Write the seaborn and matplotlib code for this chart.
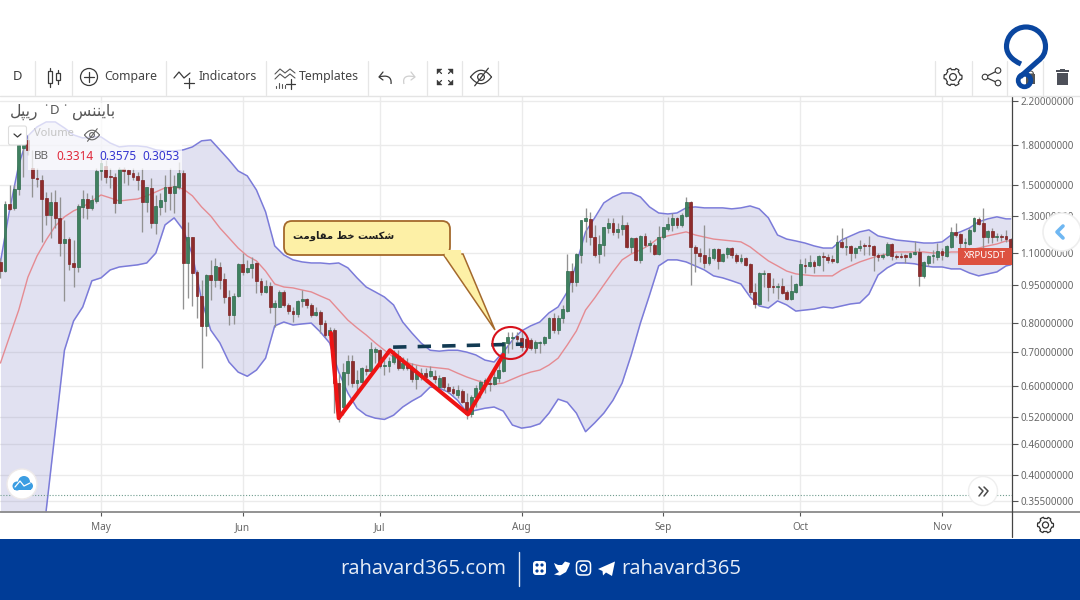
import numpy as np
import pandas as pd
import matplotlib
matplotlib.use("Agg")
import matplotlib.pyplot as plt
import seaborn as sns
from matplotlib.patches import Circle, Ellipse, FancyBboxPatch, Polygon, Rectangle, PathPatch, Wedge
from matplotlib.path import Path
from matplotlib.ticker import FixedLocator, NullLocator

sns.set_theme(style="white")
plt.rcParams['font.family'] = ['Noto Sans', 'DejaVu Sans']

# daily candles of the pair, first to last bar on the chart
opens = [1.056, 1.013, 1.375, 1.351, 1.473, 1.776, 1.842, 1.62, 1.549, 1.535,
         1.414, 1.308, 1.388, 1.291, 1.151, 1.172, 1.051, 1.032, 1.357, 1.407,
         1.351, 1.394, 1.599, 1.635, 1.563, 1.556, 1.382, 1.613, 1.606, 1.585,
         1.563, 1.535, 1.388, 1.48, 1.262, 1.357, 1.394, 1.486, 1.446, 1.486,
         1.585, 1.051, 1.183, 1.009, .904, .789, .995, .973, 1.032, .977,
         .90, .829, .904, 1.047, 1.009, 1.028, 1.051, .969, .921, .947,
         .86, .86, .921, .868, .844, .833, .884, .892, .868, .829,
         .841, .799, .757, .774, .608, .545, .636, .672, .608, .61,
         .648, .642, .70, .706, .657, .657, .669, .687, .651, .663,
         .651, .619, .625, .636, .627, .627, .597, .625, .597, .591,
         .575, .586, .557, .527, .57, .591, .608, .608, .605, .622,
         .642, .73, .746, .753, .746, .743, .739, .713, .73, .73,
         .746, .818, .774, .818, .844, 1.013, .964, 1.09, 1.273, 1.285,
         1.183, 1.095, 1.141, 1.233, 1.262, 1.211, 1.228, 1.25, 1.131, 1.178,
         1.066, 1.189, 1.141, 1.141, 1.095, 1.183, 1.228, 1.25, 1.291, 1.25,
         1.302, 1.388, 1.131, 1.10, 1.09, 1.051, 1.076, 1.12, 1.061, 1.095,
         1.125, 1.09, 1.061, 1.076, 1.047, .921, .872, 1.0, 1.004, .947,
         .942, .947, .921, .892, .921, .951, 1.042, 1.037, 1.056, 1.042,
         1.085, 1.08, 1.071, 1.056, 1.157, 1.131, 1.136, 1.10, 1.125, 1.141,
         1.141, 1.136, 1.09, 1.08, 1.09, 1.146, 1.085, 1.085, 1.09, 1.08,
         1.095, 1.105, .991, 1.051, 1.085, 1.08, 1.11, 1.085, 1.131, 1.211,
         1.20, 1.151, 1.146, 1.216, 1.285, 1.262, 1.183, 1.216, 1.183, 1.189, 1.189, 1.172]
closes = [1.013, 1.375, 1.345, 1.473, 1.80, 1.80, 1.76, 1.549, 1.542, 1.407,
          1.308, 1.388, 1.291, 1.151, 1.172, 1.047, 1.032, 1.363, 1.407, 1.351,
          1.401, 1.599, 1.658, 1.556, 1.556, 1.382, 1.613, 1.599, 1.578, 1.556,
          1.535, 1.388, 1.486, 1.262, 1.363, 1.401, 1.486, 1.446, 1.493, 1.585,
          1.051, 1.183, 1.004, .904, .789, .995, .973, 1.037, .973, .90,
          .829, .904, 1.047, 1.009, 1.028, 1.047, .969, .921, .947, .86,
          .876, .921, .868, .844, .833, .884, .892, .868, .829, .841,
          .796, .757, .774, .608, .518, .639, .672, .608, .616, .651,
          .642, .71, .71, .657, .66, .672, .691, .651, .666, .651,
          .619, .636, .636, .625, .642, .619, .622, .597, .586, .581,
          .589, .557, .527, .57, .594, .61, .616, .605, .625, .645,
          .733, .75, .75, .743, .716, .716, .713, .733, .733, .75,
          .818, .774, .818, .852, 1.013, .964, 1.095, 1.279, 1.291, 1.183,
          1.09, 1.146, 1.239, 1.262, 1.211, 1.228, 1.25, 1.131, 1.178, 1.066,
          1.189, 1.141, 1.151, 1.095, 1.183, 1.239, 1.256, 1.291, 1.25, 1.308,
          1.388, 1.131, 1.10, 1.085, 1.051, 1.08, 1.12, 1.061, 1.095, 1.125,
          1.09, 1.061, 1.076, 1.042, .921, .872, 1.004, 1.004, .942, .942,
          .947, .917, .892, .925, .955, 1.047, 1.037, 1.056, 1.037, 1.085,
          1.08, 1.066, 1.061, 1.157, 1.131, 1.136, 1.10, 1.125, 1.136, 1.136,
          1.136, 1.09, 1.08, 1.09, 1.146, 1.085, 1.08, 1.08, 1.08, 1.10,
          1.105, .991, 1.056, 1.085, 1.09, 1.11, 1.09, 1.136, 1.211, 1.194,
          1.151, 1.157, 1.222, 1.291, 1.256, 1.183, 1.216, 1.183, 1.189, 1.183, 1.172, 1.115]
highs = [1.076, 1.394, 1.50, 1.50, 1.884, 1.867, 1.884, 1.76, 1.62, 1.57,
         1.453, 1.453, 1.466, 1.42, 1.279, 1.183, 1.167, 1.375, 1.466, 1.446,
         1.433, 1.62, 1.712, 1.681, 1.62, 1.585, 1.628, 1.628, 1.613, 1.62,
         1.592, 1.62, 1.486, 1.549, 1.433, 1.446, 1.57, 1.62, 1.57, 1.666,
         1.606, 1.268, 1.183, 1.018, .973, 1.0, 1.066, 1.076, 1.056, 1.004,
         .929, .917, 1.051, 1.10, 1.066, 1.08, 1.056, .982, .973, .964,
         .888, .929, .929, .876, .86, .888, .929, .896, .876, .86,
         .848, .81, .785, .782, .633, .666, .691, .691, .645, .654,
         .66, .733, .716, .71, .675, .684, .706, .706, .684, .681,
         .666, .66, .651, .651, .657, .645, .63, .625, .608, .60,
         .602, .591, .581, .575, .602, .616, .622, .625, .654, .669,
         .733, .767, .767, .767, .774, .75, .746, .739, .736, .753,
         .821, .837, .829, .868, 1.095, 1.051, 1.10, 1.279, 1.351, 1.327,
         1.25, 1.194, 1.239, 1.291, 1.291, 1.262, 1.308, 1.268, 1.183, 1.183,
         1.194, 1.205, 1.167, 1.151, 1.244, 1.239, 1.297, 1.32, 1.297, 1.32,
         1.42, 1.394, 1.141, 1.125, 1.25, 1.125, 1.125, 1.125, 1.10, 1.131,
         1.131, 1.10, 1.095, 1.08, 1.051, .96, 1.009, 1.018, 1.004, .982,
         .96, .982, .929, .995, .96, 1.071, 1.076, 1.09, 1.066, 1.09,
         1.105, 1.095, 1.09, 1.194, 1.233, 1.183, 1.141, 1.131, 1.167, 1.151,
         1.189, 1.141, 1.10, 1.10, 1.157, 1.151, 1.095, 1.10, 1.095, 1.105,
         1.162, 1.125, 1.061, 1.09, 1.115, 1.151, 1.125, 1.141, 1.239, 1.262,
         1.205, 1.178, 1.233, 1.297, 1.297, 1.351, 1.222, 1.233, 1.205, 1.20, 1.222, 1.178]
lows = [.982, 1.009, 1.339, 1.339, 1.433, 1.556, 1.72, 1.42, 1.486, 1.157,
        1.25, 1.178, 1.233, 1.085, .884, 1.018, .942, 1.009, 1.291, 1.285,
        1.339, 1.382, 1.535, 1.514, 1.48, 1.32, 1.382, 1.514, 1.50, 1.535,
        1.466, 1.211, 1.327, 1.233, 1.20, 1.308, 1.327, 1.339, 1.32, 1.473,
        .852, .896, .864, .818, .651, .753, .888, .942, .934, .876,
        .792, .796, .90, .995, 1.004, .982, .917, .908, .917, .837,
        .785, .86, .86, .833, .803, .821, .86, .856, .821, .825,
        .764, .75, .73, .53, .508, .525, .602, .597, .581, .608,
        .63, .639, .666, .651, .63, .639, .663, .645, .645, .645,
        .61, .591, .616, .61, .625, .608, .589, .589, .581, .575,
        .568, .555, .515, .52, .545, .568, .581, .586, .602, .61,
        .639, .697, .71, .733, .703, .71, .706, .697, .697, .723,
        .746, .764, .76, .799, .841, .921, .947, 1.051, 1.157, 1.141,
        1.08, 1.051, 1.085, 1.205, 1.194, 1.178, 1.194, 1.125, 1.10, 1.061,
        1.051, 1.131, 1.105, 1.09, 1.09, 1.172, 1.216, 1.216, 1.233, 1.239,
        1.297, .951, 1.009, 1.056, 1.028, 1.042, 1.066, 1.023, 1.056, 1.076,
        1.076, 1.051, 1.051, 1.037, .908, .856, .868, .942, .884, .917,
        .892, .912, .888, .888, .917, .947, 1.004, 1.032, 1.004, 1.037,
        1.013, 1.051, 1.051, 1.051, 1.125, 1.09, 1.061, 1.076, 1.11, 1.09,
        1.09, 1.013, 1.061, 1.071, 1.085, 1.066, 1.071, 1.076, 1.051, 1.076,
        1.09, .947, .982, 1.037, 1.051, 1.066, 1.066, 1.08, 1.125, 1.183,
        1.125, 1.125, 1.141, 1.211, 1.25, 1.125, 1.151, 1.151, 1.162, 1.162, 1.157, 1.051]

# bollinger bands read at every second bar
band_days = list(range(0, 221, 2)) + [221]
band_upper = [1.056, 1.339, 1.643, 1.875, 1.954, 1.999, 1.999, 1.945, 1.884, 1.858,
              1.867, 1.867, 1.816, 1.784, 1.792, 1.792, 1.784, 1.76, 1.752, 1.752,
              1.76, 1.784, 1.834, 1.842, 1.76, 1.681, 1.599, 1.563, 1.466, 1.327,
              1.136, 1.09, 1.066, 1.056, 1.051, 1.051, 1.047, 1.051, 1.028, .982,
              .942, .921, .90, .868, .803, .764, .73, .706, .703, .706,
              .706, .70, .691, .675, .669, .70, .739, .771, .789, .803,
              .837, .86, .921, 1.047, 1.211, 1.291, 1.382, 1.42, 1.446, 1.446,
              1.42, 1.357, 1.32, 1.314, 1.32, 1.351, 1.357, 1.351, 1.351, 1.351,
              1.345, 1.351, 1.363, 1.345, 1.291, 1.194, 1.172, 1.162, 1.151, 1.136,
              1.125, 1.125, 1.167, 1.189, 1.211, 1.222, 1.189, 1.178, 1.167, 1.162,
              1.157, 1.151, 1.151, 1.157, 1.194, 1.211, 1.233, 1.268, 1.285, 1.297,
              1.285, 1.285]
band_mid = [.666, .752, .848, .985, 1.085, 1.167, 1.244, 1.297, 1.333, 1.357,
            1.394, 1.433, 1.414, 1.394, 1.401, 1.407, 1.427, 1.453, 1.48, 1.486,
            1.473, 1.427, 1.357, 1.302, 1.233, 1.178, 1.125, 1.085, 1.061, 1.013,
            .955, .942, .938, .929, .921, .904, .888, .848, .81, .782,
            .757, .73, .706, .684, .672, .663, .657, .654, .651, .648,
            .636, .625, .616, .608, .605, .608, .619, .63, .639, .645,
            .66, .681, .723, .771, .848, .896, .951, 1.009, 1.066, 1.095,
            1.115, 1.141, 1.178, 1.189, 1.20, 1.211, 1.194, 1.183, 1.172, 1.167,
            1.162, 1.157, 1.131, 1.095, 1.061, 1.037, 1.013, 1.0, .995, .991,
            .991, .991, 1.018, 1.037, 1.056, 1.071, 1.085, 1.095, 1.105, 1.105,
            1.105, 1.105, 1.10, 1.10, 1.105, 1.105, 1.115, 1.125, 1.136, 1.146,
            1.162, 1.162]
band_lower = [.15, .165, .18, .20, .23, .34, .49, .706, .807, .86,
              .969, .982, 1.018, 1.032, 1.037, 1.042, 1.051, 1.10, 1.25, 1.291,
              1.222, 1.09, .888, .774, .73, .669, .639, .627, .645, .681,
              .789, .803, .792, .796, .799, .767, .73, .639, .581, .542,
              .525, .518, .515, .525, .545, .56, .573, .597, .594, .583,
              .562, .532, .537, .542, .545, .535, .502, .495, .498, .505,
              .53, .565, .557, .53, .487, .507, .53, .562, .608, .691,
              .799, .908, 1.037, 1.066, 1.066, 1.056, 1.037, 1.018, .991, .982,
              .969, .955, .90, .864, .856, .884, .868, .844, .848, .852,
              .86, .856, .864, .872, .876, .912, .995, 1.028, 1.051, 1.051,
              1.047, 1.037, 1.032, 1.032, 1.023, 1.023, 1.004, .991, 1.0, 1.009,
              1.037, 1.042]

# hand drawn pattern and resistance line on the chart
pattern_days = [72.3, 74, 85.2, 102.3, 110]
pattern_prices = [.764, .518, .706, .527, .691]
resist_days = [85.9, 114.3]
resist_prices = [.716, .726]
last_line_price = .365

price_ticks = [2.2, 1.8, 1.5, 1.3, 1.1, .95, .8, .7, .6, .52, .46, .4, .355]
month_days = [22, 53, 83, 114, 145, 175, 206]
month_labels = ['May', 'Jun', 'Jul', 'Aug', 'Sep', 'Oct', 'Nov']
bb_values = ['0.3314', '0.3575', '0.3053']

# persian strings in visual order with presentation forms, matplotlib does no shaping
callout_text = '\uFE96\uFEE3\uFEED\uFE8E\uFED8\uFEE3 \uFEC2\uFEA7 \uFE96\uFEB4\uFB91\uFEB7'
title_left = '\uFEDE\uFB59\uFBFE\uFEAD'
title_right = '\uFEB2\uFEE8\uFEE8\uFBFE\uFE8E\uFE91'

df = pd.DataFrame({'open': opens, 'high': highs, 'low': lows, 'close': closes})
df['day'] = df.index
df['up'] = df['close'] >= df['open']

fig = plt.figure(figsize=(10.8, 6), dpi=100, facecolor='white')
ax = fig.add_axes([0, 88 / 600, 1012 / 1080, 416 / 600])
ax.set_yscale('log')

ax.fill_between(band_days, band_lower, band_upper, color='#7f7fc4', alpha=0.23, lw=0, zorder=1.5)
sns.lineplot(x=band_days, y=band_upper, ax=ax, color='#7b7bd9', lw=1.1, estimator=None, zorder=2)
sns.lineplot(x=band_days, y=band_lower, ax=ax, color='#7b7bd9', lw=1.1, estimator=None, zorder=2)
sns.lineplot(x=band_days, y=band_mid, ax=ax, color='#e58b92', lw=1.0, estimator=None, zorder=2)

ax.vlines(df['day'], df['low'], df['high'], color='#929292', lw=0.95, zorder=3)
body_low = df[['open', 'close']].min(axis=1)
body_high = df[['open', 'close']].max(axis=1)
body_col = np.where(df['up'], '#3f8060', '#8e2c2c')
body_edge = np.where(df['up'], '#2f6a4c', '#7d2323')
ax.bar(df['day'], body_high - body_low, bottom=body_low, width=0.62, color=body_col,
       edgecolor=body_edge, lw=0.5, zorder=4)

ax.axhline(last_line_price, color='#6f9c8e', lw=0.8, ls=(0, (1, 1.6)), zorder=2)
sns.lineplot(x=pattern_days, y=pattern_prices, ax=ax, color='#ee1414', lw=2.9, estimator=None,
             sort=False, zorder=6)
ax.plot(resist_days, resist_prices, color='#123a52', lw=2.6, dashes=(3.7, 3.1), zorder=6)

ax.set_xlim(-0.1, 221.3)
ax.set_ylim(.3377, 2.25)
ax.yaxis.set_major_locator(FixedLocator(price_ticks))
ax.yaxis.set_minor_locator(NullLocator())
ax.set_yticklabels(['%.8f' % p for p in price_ticks])
ax.yaxis.tick_right()
ax.set_xticks(month_days)
ax.set_xticklabels(month_labels)
ax.tick_params(axis='y', length=4.5, width=0.8, color='#555555', labelsize=7.1, labelcolor='#666666', pad=1.5, right=True)
ax.tick_params(axis='x', length=3, width=0.8, color='#555555', labelsize=7.2, labelcolor='#666666', pad=4.2, bottom=True)
ax.grid(True, color='#ebebeb', lw=1.0, zorder=0)
ax.set_axisbelow(True)
for s in ['top', 'left', 'right', 'bottom']:
    ax.spines[s].set_visible(False)
ax.set_xlabel('')
ax.set_ylabel('')

# overlay in picture pixels for the terminal chrome
ui = fig.add_axes([0, 0, 1, 1], zorder=5)
ui.set_xlim(0, 1080)
ui.set_ylim(600, 0)
ui.axis('off')
ui.patch.set_alpha(0)

INK = '#3a3a3a'

def seg(xs, ys, color=INK, lw=0.9, **kw):
    ui.plot(xs, ys, color=color, lw=lw, solid_capstyle='round', **kw)

def eye_slash(cx, cy, w, color=INK, lw=0.9):
    t = np.linspace(-1, 1, 30)
    seg(cx + t * w / 2, cy - (1 - t ** 2) * w * 0.32, color, lw)
    seg(cx + t * w / 2, cy + (1 - t ** 2) * w * 0.32, color, lw)
    ui.add_patch(Circle((cx, cy), w * 0.16, fill=False, ec=color, lw=lw))
    seg([cx - w * 0.3, cx + w * 0.35], [cy + w * 0.42, cy - w * 0.42], color, lw)

def gear(cx, cy, r, color=INK, lw=0.9):
    ang = np.linspace(0, 2 * np.pi, 97)[:-1]
    rad = r * (0.82 + 0.18 * (np.cos(ang * 6) > 0.0))
    ui.add_patch(Polygon(np.c_[cx + rad * np.cos(ang), cy + rad * np.sin(ang)], fc='white', ec=color, lw=lw, joinstyle='round'))
    ui.add_patch(Circle((cx, cy), r * 0.38, fill=False, ec=color, lw=lw))

# axis frame
seg([0, 1080], [512, 512], '#8a8a8a', 1.3)
seg([1012, 1012], [96, 537], '#444444', 0.9)
seg([0, 1080], [95.5, 95.5], '#e4e4e4', 1.0)
for sx in [35, 72, 166, 266, 368, 427, 462, 498, 935, 972, 1007, 1043]:
    seg([sx, sx], [61, 95], '#e6e6e6', 0.9)

# toolbar
ui.text(17, 77, 'D', fontsize=9.3, color=INK, ha='center', va='center')
for cx, ty, by, t2, b2 in [(49.5, 71, 83, 68, 87), (57.5, 73, 80, 70, 84)]:
    seg([cx, cx], [t2, b2], INK, 0.9)
    ui.add_patch(Rectangle((cx - 2, ty), 4, by - ty, fc='white', ec=INK, lw=0.9, zorder=3))
ui.add_patch(Circle((89, 77), 8.5, fill=False, ec=INK, lw=0.9))
seg([84, 94], [77, 77]); seg([89, 89], [72, 82])
ui.text(104, 76.5, 'Compare', fontsize=8.9, color='#444444', va='center')
seg([174, 179, 184, 190], [78, 72, 78, 73])
seg([184, 194], [83, 83]); seg([189, 189], [78, 88])
ui.text(199, 76.5, 'Indicators', fontsize=8.9, color='#444444', va='center')
seg([275, 280, 285, 290, 295], [74, 69, 73, 69, 73], '#555555', 0.8)
seg([275, 280, 285, 290, 295], [79, 74, 78, 74, 78], '#555555', 0.8)
for bx, bt in zip([276, 279, 282, 285], [86, 83, 84, 85]):
    seg([bx, bx], [bt, 88], '#555555', 0.8)
seg([286, 295], [84, 84]); seg([290.5, 290.5], [79, 89])
ui.text(299, 76.5, 'Templates', fontsize=8.9, color='#444444', va='center')
undo = PathPatch(Path([(379, 77), (386, 75), (392, 76), (391, 84)], [1, 4, 4, 4]), fill=False, ec=INK, lw=0.9)
ui.add_patch(undo)
seg([383, 379, 383], [72, 77, 80])
redo = PathPatch(Path([(415, 77), (408, 75), (402, 76), (404, 84)], [1, 4, 4, 4]), fill=False, ec='#cfcfcf', lw=0.9)
ui.add_patch(redo)
seg([411, 415, 411], [72, 77, 80], '#cfcfcf')
for dx, dy in [(-1, -1), (1, -1), (-1, 1), (1, 1)]:
    ui.add_patch(Polygon([(445 + dx * 8, 77 + dy * 8), (445 + dx * 3, 77 + dy * 8), (445 + dx * 8, 77 + dy * 3)],
                         fc=INK, ec=INK, lw=0.3))
    seg([445 + dx * 7, 445 + dx * 3.5], [77 + dy * 7, 77 + dy * 3.5], INK, 0.9)
eye_slash(481, 77, 21)
gear(953, 77, 9)
for px, py in [(998, 70.5), (998, 83), (985, 77)]:
    ui.add_patch(Circle((px, py), 2.8, fc='white', ec=INK, lw=0.8, zorder=4))
seg([985, 998], [77, 70.5]); seg([985, 998], [77, 83])
ui.add_patch(Rectangle((1026, 74), 9, 10, fc='#555555', ec='none'))
ui.add_patch(Wedge((1030.5, 74), 3, 180, 360, fc='none', ec='#555555', lw=0.8))
ui.add_patch(Rectangle((1057, 73), 11, 12, fc='#4d5059', ec='none'))
ui.add_patch(Rectangle((1056, 70), 13, 1.8, fc='#4d5059', ec='none'))
ui.add_patch(Rectangle((1060, 68.5), 5, 1.8, fc='#4d5059', ec='none'))

# logo above the toolbar
knot = Path([(1021, 64), (1012, 60), (1006.5, 54), (1006.5, 46.5), (1006.5, 36), (1015, 27), (1026, 27),
             (1037, 27), (1045.5, 36), (1045.5, 46.5), (1045.5, 53), (1043, 57), (1038, 61), (1020, 77)],
            [1, 4, 4, 4, 4, 4, 4, 4, 4, 4, 4, 4, 4, 2])
ui.add_patch(PathPatch(knot, fill=False, ec='#0a469f', lw=3.7, capstyle='butt', zorder=6))
ui.add_patch(Circle((1024.5, 80.5), 6.3, fill=False, ec='#0a469f', lw=3.4, zorder=6))

# top left legend
ui.add_patch(Rectangle((28, 121), 154, 49, fc='white', alpha=0.72, ec='none', zorder=1))
ui.add_patch(Rectangle((5, 103), 132, 18, fc='white', alpha=0.75, ec='none', zorder=1))
ui.text(10, 112, title_left, fontsize=11.3, color='#555555', va='center', family=['DejaVu Sans'])
ui.text(50, 111, 'D', fontsize=9.5, color='#555555', va='center')
ui.text(46, 106, '\u00b7', fontsize=9, color='#777777', ha='center', va='center')
ui.text(65, 106, '\u00b7', fontsize=9, color='#777777', ha='center', va='center')
ui.text(115, 112, title_right, fontsize=11.3, color='#555555', va='center', ha='right', family=['DejaVu Sans'])
ui.add_patch(FancyBboxPatch((8.5, 126), 18, 19, boxstyle='round,pad=0,rounding_size=2', fc='white', ec='#dddddd', lw=0.8, zorder=3))
seg([14, 17.5, 21], [134, 137, 134], INK, 0.9, zorder=4)
ui.text(34, 134, 'Volume', fontsize=8.0, color='#c4c4c4', va='center', fontweight='bold')
eye_slash(92, 135, 15, '#666666', 0.8)
ui.text(34, 156.5, 'BB', fontsize=8.3, color='#666666', va='center', zorder=3)
for lx, val, col in zip([56.5, 99, 142.5], bb_values, ['#e0283a', '#3434d0', '#3434d0']):
    ui.text(lx, 156.5, val, fontsize=8.5, color=col, va='center', zorder=3)

# callout
ui.add_patch(Polygon([(443, 254), (463, 254), (495, 330)], fc='#fdf0a6', ec='#a4692c', lw=1.1, zorder=3))
ui.add_patch(FancyBboxPatch((284, 221), 166, 34, boxstyle='round,pad=0,rounding_size=8',
                            fc='#fdf0a6', ec='#a4692c', lw=1.3, zorder=3))
ui.add_patch(Polygon([(444, 250), (461, 250), (461.5, 256.5), (445, 256.5)], fc='#fdf0a6', ec='none', zorder=3.5))
ui.text(343.5, 236, callout_text, fontsize=7.2, color='#1c1c1c', ha='center', va='center',
        fontweight='bold', family=['DejaVu Sans'], zorder=4)
ui.add_patch(Ellipse((510.5, 343), 36, 32, fill=False, ec='#d8121c', lw=1.5, zorder=7))

# price label
ui.add_patch(Rectangle((958, 248), 54, 16.5, fc='#dd5140', ec='none', zorder=3))
ui.text(985, 256, 'XRPUSDT', fontsize=6.9, color='white', fontweight='bold', ha='center', va='center', zorder=4)

# floating buttons
ui.add_patch(Circle((1062, 232), 19, fc='white', ec='#eeeeee', lw=1.2, zorder=3))
seg([1063, 1057, 1063], [226, 232, 238], '#6fb7f2', 2.6, zorder=4)
ui.add_patch(Circle((22, 484), 15, fc='white', ec='#eeeaea', lw=1, zorder=3))
for ex, ey, er in [(17, 486, 4.5), (24, 482, 6), (29, 486, 4)]:
    ui.add_patch(Circle((ex, ey), er, fc='#3b9de2', ec='none', zorder=4))
ui.add_patch(Rectangle((14, 486), 17, 4, fc='#3b9de2', ec='none', zorder=4))
seg([15, 20, 24, 30], [487, 481, 486, 483], 'white', 0.9, zorder=5)
ui.add_patch(Circle((983, 491), 14.5, fc='white', ec='#efefef', lw=1, zorder=3))
seg([979, 983, 979], [487, 491, 496], '#4a4a4a', 1.1, zorder=4)
seg([984, 988, 984], [487, 491, 496], '#4a4a4a', 1.1, zorder=4)
gear(1045.5, 525, 8, '#333333', 0.9)

# footer
ui.add_patch(Rectangle((0, 539), 1080, 61, fc='#003c97', ec='none'))
ui.text(340, 569, 'rahavard365.com', fontsize=14.6, color='#e8eef7', va='center', family=['Open Sans'])
ui.text(621, 569, 'rahavard365', fontsize=14.6, color='#e8eef7', va='center', family=['Open Sans'])
seg([518.5, 518.5], [552, 586], '#dfe7f4', 1.0)
ui.add_patch(FancyBboxPatch((533, 561), 13, 14, boxstyle='round,pad=0,rounding_size=3', fc='white', ec='none'))
for dx, dy in [(537, 565), (542, 565), (537, 571), (542, 571)]:
    ui.add_patch(Circle((dx, dy), 1.6, fc='#003c97', ec='none'))
ui.add_patch(Polygon([(554, 563), (558, 565), (562, 565), (565, 561.5), (570, 563), (569, 566), (566, 572),
                      (560, 575.5), (554, 574.5), (559, 572), (556, 568)], fc='white', ec='none'))
ui.add_patch(FancyBboxPatch((576.5, 561), 14, 14, boxstyle='round,pad=0,rounding_size=4', fill=False, ec='white', lw=1.1))
ui.add_patch(Circle((583.5, 568), 3.3, fill=False, ec='white', lw=1.1))
ui.add_patch(Polygon([(598, 569), (615, 561.5), (612, 576), (606, 572.5), (603, 575.5), (602.5, 571)], fc='white', ec='none'))

fig.savefig('out.png', dpi=100)
